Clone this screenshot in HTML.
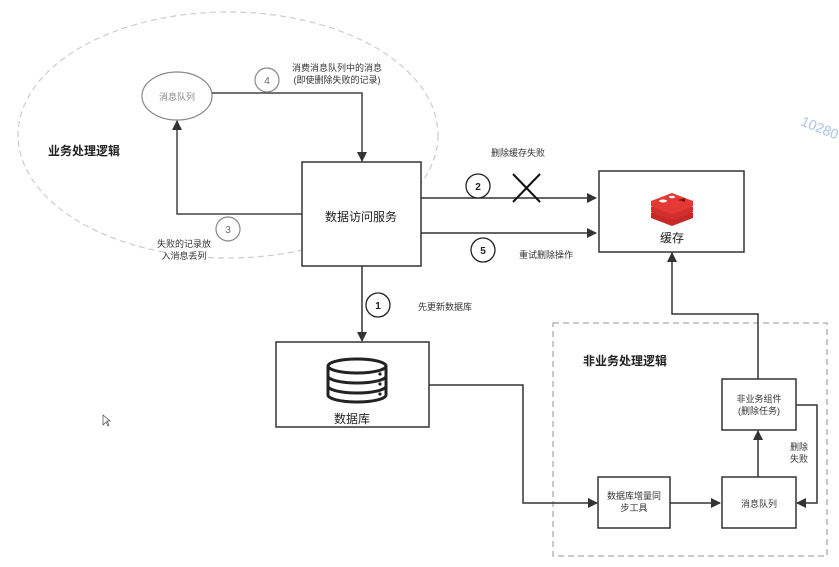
<!DOCTYPE html>
<html><head><meta charset="utf-8"><style>
html,body{margin:0;padding:0;background:#fff;}
svg{display:block;font-family:"Liberation Sans","Noto Sans CJK SC",sans-serif;}
</style></head><body>
<svg width="839" height="567" viewBox="0 0 839 567" xmlns="http://www.w3.org/2000/svg">
<defs>
<marker id="a" markerWidth="10" markerHeight="10" refX="9" refY="5" orient="auto" markerUnits="userSpaceOnUse">
<path d="M0,0 L10,5 L0,10 z" fill="#333"/></marker>
</defs>
<rect width="839" height="567" fill="#fff"/>
<!-- big dashed ellipse -->
<ellipse cx="228" cy="135" rx="210" ry="123" fill="none" stroke="#ccc" stroke-width="1.2" stroke-dasharray="6,4"/>
<text x="48" y="155" font-size="12" font-weight="bold" fill="#222">业务处理逻辑</text>
<!-- msg queue ellipse -->
<ellipse cx="177" cy="96" rx="35" ry="24" fill="#fff" stroke="#888" stroke-width="1.2"/>
<text x="177" y="100" font-size="9" fill="#888" text-anchor="middle">消息队列</text>
<!-- line 4 -->
<polyline points="212,93 362,93 362,161" fill="none" stroke="#444" stroke-width="1.5" marker-end="url(#a)"/>
<circle cx="267" cy="80" r="12" fill="#fff" stroke="#888" stroke-width="1.2"/>
<text x="267" y="84" font-size="10" fill="#666" text-anchor="middle">4</text>
<text x="337" y="71" font-size="9" fill="#333" text-anchor="middle">消费消息队列中的消息</text>
<text x="337" y="83" font-size="9" fill="#333" text-anchor="middle">(即使删除失败的记录)</text>
<!-- line 3 -->
<polyline points="302,214 177,214 177,121" fill="none" stroke="#444" stroke-width="1.5" marker-end="url(#a)"/>
<circle cx="228" cy="229" r="12" fill="#fff" stroke="#888" stroke-width="1.2"/>
<text x="228" y="233" font-size="10" fill="#666" text-anchor="middle">3</text>
<text x="184" y="247" font-size="9" fill="#333" text-anchor="middle">失败的记录放</text>
<text x="184" y="259" font-size="9" fill="#333" text-anchor="middle">入消息丢列</text>
<!-- service box -->
<rect x="302" y="162" width="119" height="104" fill="#fff" stroke="#333" stroke-width="1.5"/>
<text x="361" y="221" font-size="12" fill="#222" text-anchor="middle">数据访问服务</text>
<!-- lines to cache -->
<line x1="421" y1="198" x2="596" y2="198" stroke="#333" stroke-width="1.5" marker-end="url(#a)"/>
<line x1="421" y1="233" x2="596" y2="233" stroke="#333" stroke-width="1.5" marker-end="url(#a)"/>
<circle cx="478" cy="186" r="12" fill="#fff" stroke="#222" stroke-width="1.3"/>
<text x="478" y="190" font-size="10" font-weight="bold" fill="#222" text-anchor="middle">2</text>
<circle cx="483" cy="250" r="12" fill="#fff" stroke="#222" stroke-width="1.3"/>
<text x="483" y="254" font-size="10" font-weight="bold" fill="#222" text-anchor="middle">5</text>
<line x1="513" y1="174" x2="540" y2="202" stroke="#111" stroke-width="2"/>
<line x1="540" y1="174" x2="513" y2="202" stroke="#111" stroke-width="2"/>
<text x="518" y="156" font-size="9" fill="#333" text-anchor="middle">删除缓存失败</text>
<text x="546" y="258" font-size="9" fill="#333" text-anchor="middle">重试删除操作</text>
<!-- cache box -->
<rect x="599" y="171" width="145" height="81" fill="#fff" stroke="#333" stroke-width="1.5"/>
<g>
<path d="M651,213 L672,205 L693,213 L693,218 L672,226 L651,218 Z" fill="#c62828"/>
<path d="M651,207 L672,199 L693,207 L693,212 L672,220 L651,212 Z" fill="#d32f2f"/>
<path d="M651,201 L672,193 L693,201 L693,206 L672,214 L651,206 Z" fill="#e53935"/>
<ellipse cx="663" cy="201" rx="4" ry="1.5" fill="#fff"/>
<ellipse cx="672" cy="197" rx="3" ry="1.3" fill="#fff"/>
<path d="M678,200 L685,198 L685,202 Z" fill="#7f1010"/>
</g>
<text x="672" y="242" font-size="12" fill="#222" text-anchor="middle">缓存</text>
<text x="800" y="125" font-size="14" fill="#a9c4e6" transform="rotate(22 800 125)">10280</text>
<!-- to DB -->
<line x1="362" y1="266" x2="362" y2="341" stroke="#333" stroke-width="1.5" marker-end="url(#a)"/>
<circle cx="378" cy="305" r="12" fill="#fff" stroke="#222" stroke-width="1.3"/>
<text x="378" y="309" font-size="10" font-weight="bold" fill="#222" text-anchor="middle">1</text>
<text x="418" y="310" font-size="9" fill="#333">先更新数据库</text>
<!-- DB box -->
<rect x="276" y="342" width="153" height="85" fill="#fff" stroke="#333" stroke-width="1.5"/>
<g fill="#fff" stroke="#222" stroke-width="3">
<path d="M328,366 L328,395 A29,7 0 0 0 386,395 L386,366"/>
<ellipse cx="357" cy="366" rx="29" ry="7"/>
<path d="M328,376 A29,7 0 0 0 386,376" fill="none"/>
<path d="M328,386 A29,7 0 0 0 386,386" fill="none"/>
</g>
<circle cx="380" cy="374" r="1.6" fill="#222"/><circle cx="380" cy="384" r="1.6" fill="#222"/><circle cx="380" cy="394" r="1.6" fill="#222"/>
<text x="352" y="423" font-size="12" fill="#222" text-anchor="middle">数据库</text>
<!-- non-business dashed rect -->
<rect x="553" y="323" width="274" height="233" fill="none" stroke="#aaa" stroke-width="1.3" stroke-dasharray="6,4"/>
<text x="583" y="365" font-size="12" font-weight="bold" fill="#222">非业务处理逻辑</text>
<polyline points="429,385 523,385 523,503 597,503" fill="none" stroke="#333" stroke-width="1.5" marker-end="url(#a)"/>
<rect x="598" y="477" width="72" height="51" fill="#fff" stroke="#333" stroke-width="1.5"/>
<text x="634" y="499" font-size="9" fill="#333" text-anchor="middle">数据库增量同</text>
<text x="634" y="511" font-size="9" fill="#333" text-anchor="middle">步工具</text>
<line x1="670" y1="503" x2="720" y2="503" stroke="#333" stroke-width="1.5" marker-end="url(#a)"/>
<rect x="722" y="477" width="74" height="51" fill="#fff" stroke="#333" stroke-width="1.5"/>
<text x="759" y="507" font-size="9" fill="#333" text-anchor="middle">消息队列</text>
<line x1="758" y1="477" x2="758" y2="431" stroke="#333" stroke-width="1.5" marker-end="url(#a)"/>
<rect x="722" y="379" width="74" height="51" fill="#fff" stroke="#333" stroke-width="1.5"/>
<text x="759" y="402" font-size="9" fill="#333" text-anchor="middle">非业务组件</text>
<text x="759" y="414" font-size="9" fill="#333" text-anchor="middle">(删除任务)</text>
<polyline points="796,405 817,405 817,503 797,503" fill="none" stroke="#333" stroke-width="1.5" marker-end="url(#a)"/>
<text x="799" y="450" font-size="9" fill="#333" text-anchor="middle">删除</text>
<text x="799" y="462" font-size="9" fill="#333" text-anchor="middle">失败</text>
<polyline points="758,379 758,314 672,314 672,253" fill="none" stroke="#333" stroke-width="1.5" marker-end="url(#a)"/>
<path d="M103,415 L103,425 L106,422 L108,426 L109,425 L107,421 L110,421 Z" fill="#fff" stroke="#555" stroke-width="0.8"/>
</svg>
</body></html>
